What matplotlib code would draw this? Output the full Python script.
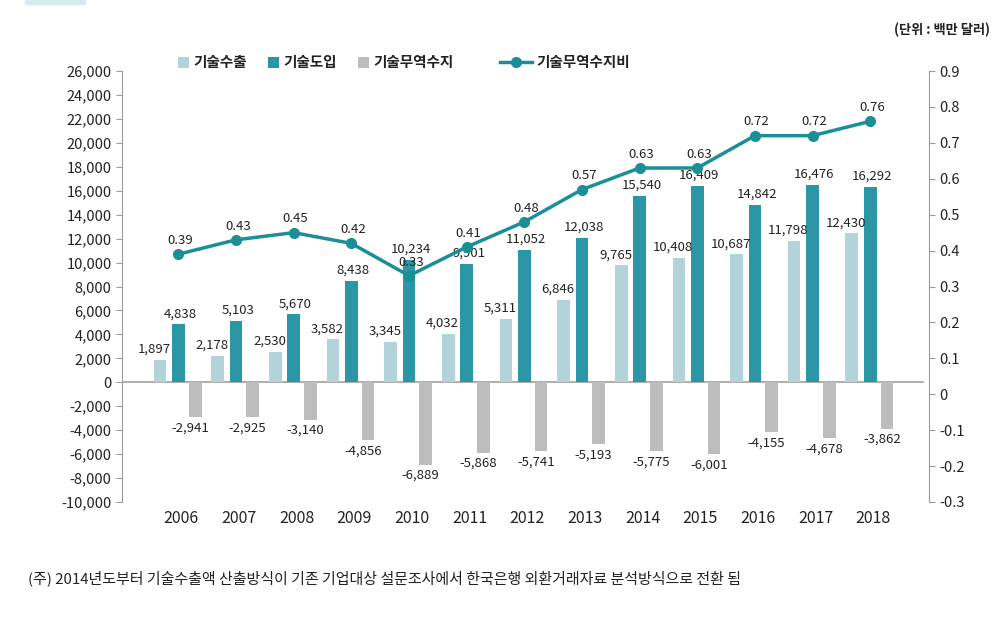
import numpy as np
import matplotlib
matplotlib.use("Agg")
import matplotlib.pyplot as plt

plt.rcParams['font.family'] = ['Noto Sans CJK KR', 'DejaVu Sans']
plt.rcParams['font.weight'] = 'medium'

years = ['2006', '2007', '2008', '2009', '2010', '2011', '2012',
         '2013', '2014', '2015', '2016', '2017', '2018']
exports = [1897, 2178, 2530, 3582, 3345, 4032, 5311, 6846, 9765, 10408, 10687, 11798, 12430]
imports = [4838, 5103, 5670, 8438, 10234, 9901, 11052, 12038, 15540, 16409, 14842, 16476, 16292]
balance = [-2941, -2925, -3140, -4856, -6889, -5868, -5741, -5193, -5775, -6001, -4155, -4678, -3862]
ratio = [0.39, 0.43, 0.45, 0.42, 0.33, 0.41, 0.48, 0.57, 0.63, 0.63, 0.72, 0.72, 0.76]

c_exp = '#b3d3db'
c_imp = '#2a96a6'
c_bal = '#bdbdbd'
c_line = '#1b8f98'
txt = '#222222'

fig = plt.figure(figsize=(9.98, 6.17), dpi=100)
ax = fig.add_axes([0.1222, 0.1864, 0.8087, 0.6985])
ax2 = ax.twinx()

x = np.arange(len(years))
w = 0.22
b1 = ax.bar(x - 0.32, exports, w, color=c_exp, label='기술수출', zorder=2)
b2 = ax.bar(x, imports, w, color=c_imp, label='기술도입', zorder=2)
b3 = ax.bar(x + 0.29, balance, w, color=c_bal, label='기술무역수지', zorder=2)
ax.axhline(0, color='#a0a0a0', lw=1.2, zorder=1, xmax=0.993)

ax.set_xlim(-0.98, 13.02)
ax.set_ylim(-10000, 26000)
ax.set_yticks(np.arange(-10000, 26001, 2000))
ax.set_yticklabels([f'{v:,}' for v in range(-10000, 26001, 2000)])
ax.set_xticks(x + 0.05)
ax.set_xticklabels(years)

ax2.set_ylim(-0.3, 0.9)
ax2.set_yticks(np.round(np.arange(-0.3, 0.91, 0.1), 1))
ax2.set_yticklabels(['-0.3', '-0.2', '-0.1', '0', '0.1', '0.2', '0.3', '0.4',
                     '0.5', '0.6', '0.7', '0.8', '0.9'])
line, = ax2.plot(x, ratio, color=c_line, lw=2.5, marker='o', ms=7, label='기술무역수지비', zorder=5)

for a in (ax, ax2):
    for s in ('top', 'bottom'):
        a.spines[s].set_visible(False)
    a.spines['left'].set_color('#9a9a9a')
    a.spines['right'].set_color('#9a9a9a')
    a.tick_params(colors='#9a9a9a', labelcolor=txt, labelsize=10.5, length=4)
ax.spines['right'].set_visible(False)
ax2.spines['left'].set_visible(False)
ax.tick_params(axis='x', length=0, pad=6, labelsize=11.5)

fs = 9.5
for i in range(len(years)):
    ax.text(x[i] - 0.42, exports[i] + 350, f'{exports[i]:,}', ha='center', va='bottom',
            fontsize=fs, color=txt, zorder=6)
    ax.text(x[i] + 0.03, imports[i] + 350, f'{imports[i]:,}', ha='center', va='bottom',
            fontsize=fs, color=txt, zorder=6)
    ax.text(x[i] + 0.2, balance[i] - 350, f'{balance[i]:,}', ha='center', va='top',
            fontsize=fs, color=txt, zorder=6)
    ax2.text(x[i] + 0.03, ratio[i] + 0.02, f'{ratio[i]:.2f}', ha='center', va='bottom',
             fontsize=fs, color=txt, zorder=6)

leg1 = fig.legend(handles=[b1, b2, b3], loc='center left', bbox_to_anchor=(0.165, 0.899),
                  ncol=3, frameon=False, handlelength=0.8, handleheight=0.8,
                  handletextpad=0.3, columnspacing=1.4, prop={'size': 10.5, 'weight': 'bold'})
for t in leg1.get_texts():
    t.set_color(txt)
leg2 = fig.legend(handles=[line], loc='center left', bbox_to_anchor=(0.488, 0.899),
                  frameon=False, handlelength=2.2, handletextpad=0.3,
                  prop={'size': 10.5, 'weight': 'bold'})
for t in leg2.get_texts():
    t.set_color(txt)

fig.text(0.992, 0.952, '(단위 : 백만 달러)', ha='right', va='center', fontsize=9.5,
         color=txt, weight='bold')
fig.text(0.028, 0.063, '(주) 2014년도부터 기술수출액 산출방식이 기존 기업대상 설문조사에서 한국은행 외환거래자료 분석방식으로 전환 됨',
         ha='left', va='center', fontsize=10.8, color=txt)
fig.patches.append(plt.Rectangle((0.025, 0.994), 0.06, 0.006, transform=fig.transFigure,
                                 color='#d6ecef', zorder=0))

fig.savefig('out.png', dpi=100, facecolor='white')
